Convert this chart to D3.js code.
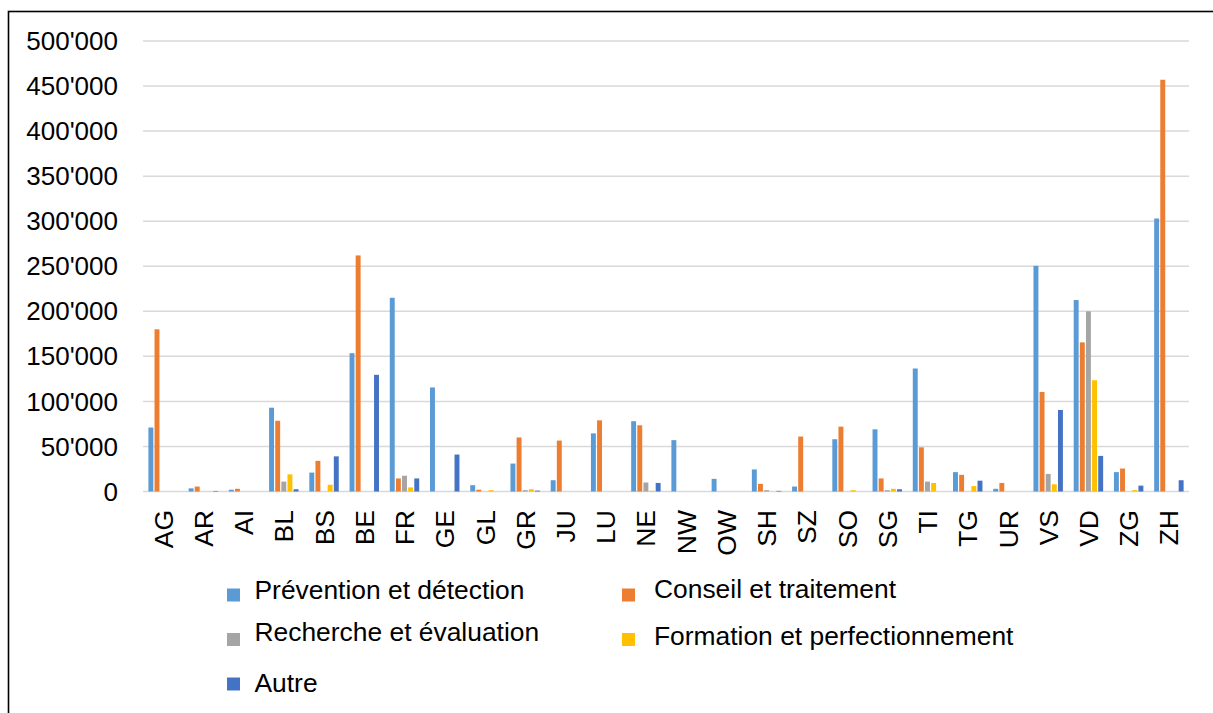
<!DOCTYPE html>
<html>
<head>
<meta charset="utf-8">
<script src="https://cdn.jsdelivr.net/npm/d3@7/dist/d3.min.js"></script>
<style>
  html, body { margin: 0; padding: 0; background: #fff; }
  svg { display: block; font-family: "Liberation Sans", Arial, sans-serif; }
</style>
</head>
<body>
<svg id="chart" width="1213" height="713"></svg>
<script>
// ---- Data ----
const categories = ["AG","AR","AI","BL","BS","BE","FR","GE","GL","GR","JU","LU","NE","NW","OW","SH","SZ","SO","SG","TI","TG","UR","VS","VD","ZG","ZH"];
const seriesNames = ["Prévention et détection","Conseil et traitement","Recherche et évaluation","Formation et perfectionnement","Autre"];
const prevention = [71000, 3500, 2000, 93000, 21000, 153500, 215000, 115500, 7000, 31000, 12500, 64500, 78000, 57000, 14000, 24500, 5500, 58000, 69000, 136500, 21500, 3000, 250500, 212500, 21500, 303000];
const conseil    = [180000, 5500, 3000, 78500, 34000, 262000, 14500, 0, 2000, 60000, 56500, 79000, 73500, 0, 0, 8500, 61000, 72000, 14500, 49000, 18500, 9500, 110500, 165500, 25500, 457000];
const recherche  = [0, 0, 0, 11000, 0, 0, 17500, 0, 0, 1500, 0, 0, 10000, 0, 0, 1500, 0, 0, 1500, 11000, 0, 0, 19500, 200000, 0, 0];
const formation  = [0, 0, 0, 19000, 7500, 0, 4500, 0, 1500, 2500, 0, 0, 800, 0, 0, 0, 0, 1500, 3000, 9500, 6000, 0, 8000, 123500, 1500, 0];
const autre      = [0, 600, 0, 2500, 39000, 129500, 14500, 41000, 0, 1000, 0, 0, 9500, 0, 0, 700, 0, 0, 2500, 0, 12000, 0, 90500, 39500, 6500, 12500];
const yTicks = [0, 50000, 100000, 150000, 200000, 250000, 300000, 350000, 400000, 450000, 500000];

const seriesValues = [prevention, conseil, recherche, formation, autre];
const colors = ["#5B9BD5", "#ED7D31", "#A5A5A5", "#FFC000", "#4472C4"];

// ---- Layout ----
const svg = d3.select("#chart");
const plot = { left: 143, right: 1189, top: 41, bottom: 491.5 };

// outer border
svg.append("rect")
  .attr("x", 8.5).attr("y", 11.5)
  .attr("width", 1220).attr("height", 720)
  .attr("fill", "none").attr("stroke", "#000").attr("stroke-width", 1.6);

const x0 = d3.scaleBand().domain(categories).range([plot.left, plot.right]).paddingInner(0).paddingOuter(0);
const bw = x0.bandwidth();
const x1 = d3.scaleBand().domain(d3.range(seriesNames.length)).range([4.8, bw - 4.8]).padding(0);
const y = d3.scaleLinear().domain([0, 500000]).range([plot.bottom, plot.top]);

const fmt = d3.formatLocale({ decimal: ".", thousands: "'", grouping: [3], currency: ["", ""] }).format(",");

// gridlines
svg.append("g").selectAll("line").data(yTicks).join("line")
  .attr("x1", plot.left).attr("x2", plot.right)
  .attr("y1", d => y(d)).attr("y2", d => y(d))
  .attr("stroke", "#d9d9d9").attr("stroke-width", 1.5);

// y labels
svg.append("g").selectAll("text").data(yTicks).join("text")
  .attr("x", 118).attr("y", d => y(d))
  .attr("dy", "0.35em")
  .attr("text-anchor", "end")
  .attr("font-size", 26)
  .attr("fill", "#000")
  .text(d => fmt(d));

// bars
const rows = categories.map((c, i) => ({ c, vals: seriesValues.map(s => s[i]) }));
const gCat = svg.append("g").selectAll("g").data(rows).join("g")
  .attr("transform", d => `translate(${x0(d.c)},0)`);
gCat.selectAll("rect").data(d => d.vals.map((v, k) => ({ v, k }))).join("rect")
  .attr("x", d => x1(d.k) + 0.6)
  .attr("width", x1.bandwidth() - 1.2)
  .attr("y", d => y(d.v))
  .attr("height", d => plot.bottom - y(d.v))
  .attr("fill", d => colors[d.k]);

// x labels
svg.append("g").selectAll("text").data(categories).join("text")
  .attr("transform", d => `translate(${x0(d) + bw / 2},510) rotate(-90)`)
  .attr("dy", "0.36em")
  .attr("text-anchor", "end")
  .attr("font-size", 26.5)
  .attr("fill", "#000")
  .text(d => d);

// legend
const legendLayout = [
  { mx: 227, my: 588.5, tx: 254.5, ty: 599.3 },
  { mx: 622, my: 588.5, tx: 654, ty: 598 },
  { mx: 227, my: 633,   tx: 254.5, ty: 640.5 },
  { mx: 622, my: 633,   tx: 654, ty: 645 },
  { mx: 227, my: 677.5, tx: 254.5, ty: 691.5 }
];
const lg = svg.append("g").selectAll("g").data(seriesNames).join("g");
lg.append("rect")
  .attr("x", (d, i) => legendLayout[i].mx)
  .attr("y", (d, i) => legendLayout[i].my)
  .attr("width", 13).attr("height", 13)
  .attr("fill", (d, i) => colors[i]);
lg.append("text")
  .attr("x", (d, i) => legendLayout[i].tx)
  .attr("y", (d, i) => legendLayout[i].ty)
  .attr("font-size", 26.4)
  .attr("fill", "#000")
  .text(d => d);
</script>
</body>
</html>
